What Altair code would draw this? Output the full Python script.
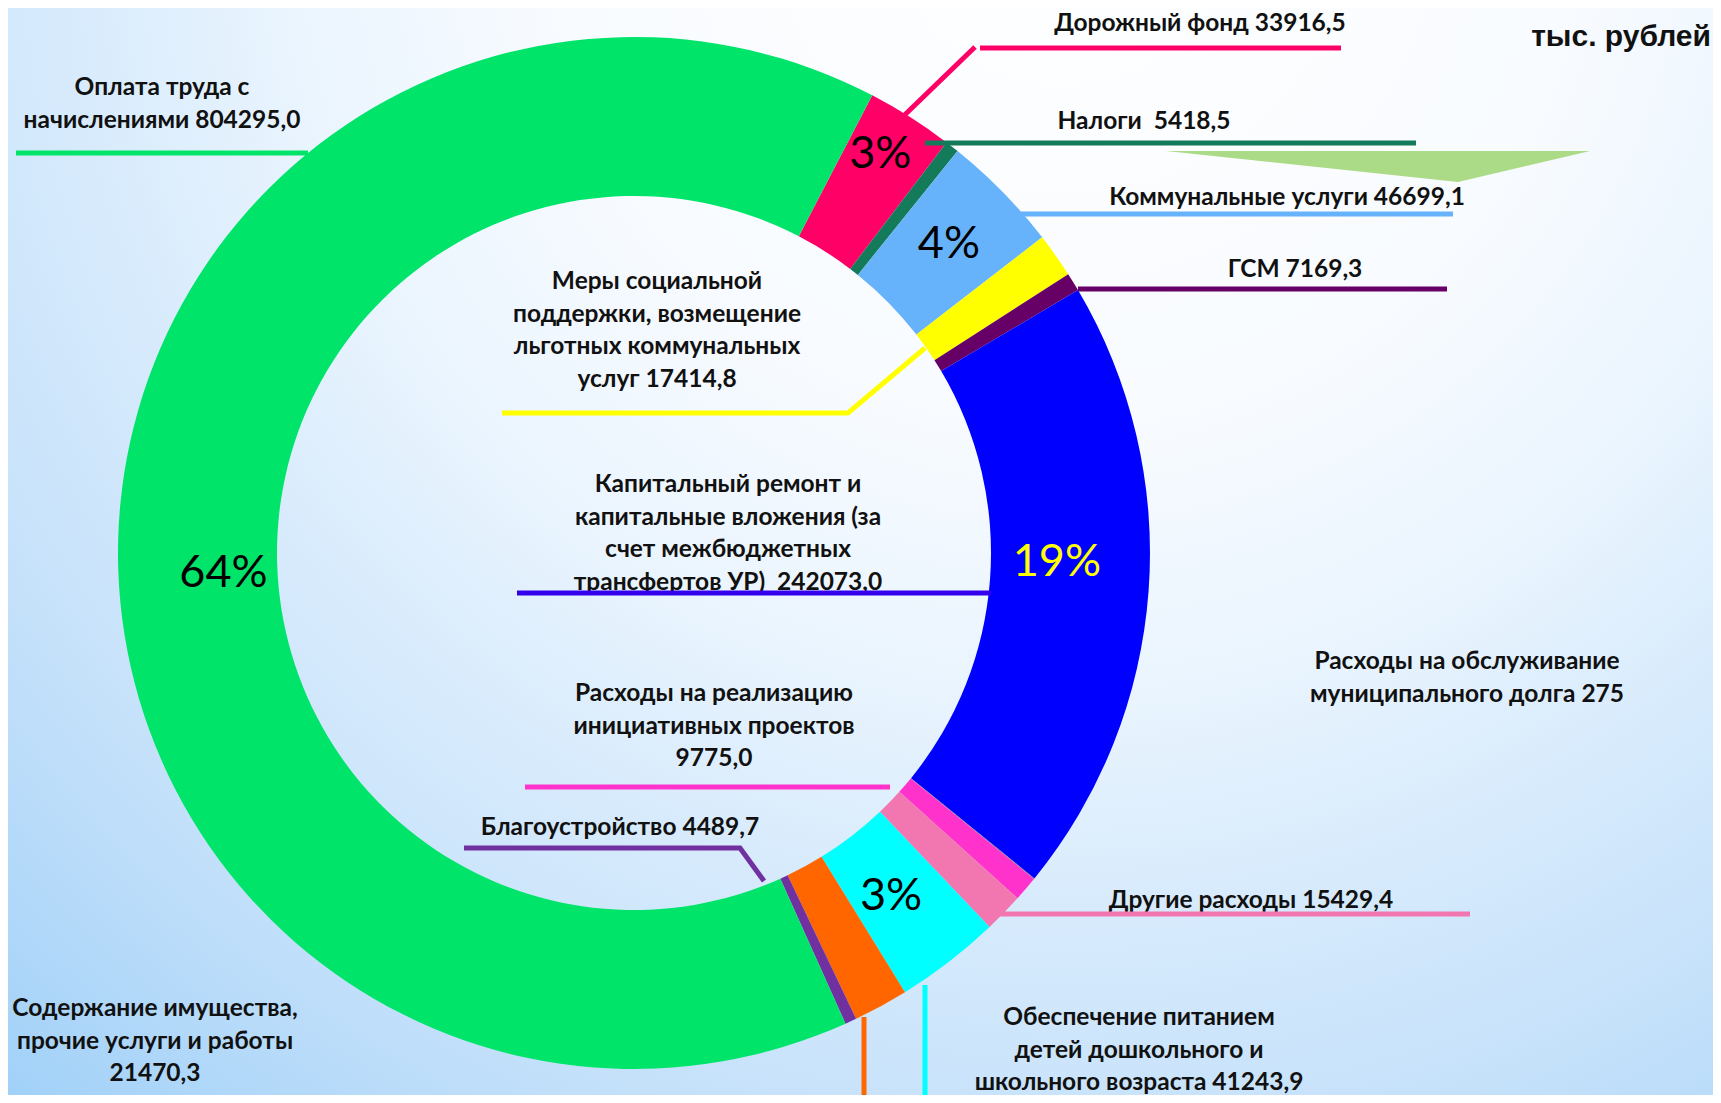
import math
import altair as alt
import pandas as pd

W, H = 1705, 1087
OFF = 8  # page margin: reference pixel = chart pixel + OFF
NB = "\u00a0"

# ---------------- data ----------------
categories = [
    "Дорожный фонд", "Налоги", "Коммунальные услуги",
    "Меры социальной поддержки", "ГСМ", "Капитальный ремонт",
    "Обслуживание муниципального долга", "Инициативные проекты",
    "Другие расходы", "Обеспечение питанием", "Содержание имущества",
    "Благоустройство", "Оплата труда",
]
values = [33916.5, 5418.5, 46699.1, 17414.8, 7169.3, 242073.0, 275.0,
          9775.0, 15429.4, 41243.9, 21470.3, 4489.7, 804295.0]
colors = ["#ff0066", "#137a5a", "#66b3fc", "#ffff00", "#660066", "#0000ff",
          "#7a7a7a", "#ff33cc", "#f277b0", "#00ffff", "#ff6600", "#7030a0",
          "#00e46a"]

label_texts = [
    "Дорожный фонд 33916,5",
    "Налоги" + NB + " 5418,5",
    "Коммунальные услуги 46699,1",
    "Меры социальной\nподдержки, возмещение\nльготных коммунальных\nуслуг 17414,8",
    "ГСМ 7169,3",
    "Капитальный ремонт и\nкапитальные вложения (за\nсчет межбюджетных\nтрансфертов УР)" + NB + " 242073,0",
    "Расходы на обслуживание\nмуниципального долга 275",
    "Расходы на реализацию\nинициативных проектов\n9775,0",
    "Другие расходы 15429,4",
    "Обеспечение питанием\nдетей дошкольного и\nшкольного возраста 41243,9",
    "Содержание имущества,\nпрочие услуги и работы\n21470,3",
    "Благоустройство 4489,7",
    "Оплата труда с\nначислениями 804295,0",
]
unit_text = "тыс. рублей"

# ---------------- layout (reference pixel coordinates) ----------------
CX, CY = 634, 553
R_OUT, R_IN = 516, 357
START_DEG = 27.5

# first-line positions of each label block
label_x = [1200, 1144, 1287, 657, 1295, 728, 1467, 714, 1251, 1139, 155, 620, 162]
label_y = [24, 122, 198, 282, 270, 485, 662, 694, 901, 1018, 1009, 828, 88]

# percent labels: radius and angular nudge (degrees) per slice
pct_radius = [469, 0, 441, 0, 0, 423, 0, 0, 0, 429, 0, 0, 411]
pct_nudge = [-0.7, 0, 0, 0, 0, -3.0, 0, 0, 0, 0.8, 0, 0, -4.5]
pct_color = ["#000000"] * 13
pct_color[5] = "#ffff00"

# leader lines: (category index, list of points)
leaders = [
    (0, [(887, 132), (975, 47)]),
    (0, [(980, 48), (1341, 48)]),
    (1, [(925, 143), (1416, 143)]),
    (2, [(1021, 214), (1453, 214)]),
    (4, [(1078, 289), (1447, 289)]),
    (3, [(502, 413), (848, 413), (925, 348)]),
    (5, [(517, 593), (991, 593)]),
    (7, [(525, 787), (890, 787)]),
    (11, [(464, 848), (740, 848), (764, 881)]),
    (8, [(993, 914), (1470, 914)]),
    (9, [(925, 985), (925, 1110)]),
    (10, [(864, 1017), (864, 1110)]),
    (12, [(16, 153), (308, 153)]),
]
leader_colors = {5: "#3300ee"}

# decorative green triangle (top right)
tri_x = [1166, 1458, 1590]
tri_top = [151, 151, 151]
tri_bot = [151, 182, 151]

# ---------------- build tables ----------------
df = pd.DataFrame({
    "cat": categories,
    "value": values,
    "idx": list(range(len(values))),
    "lr": pct_radius,
    "nd": [math.radians(v) for v in pct_nudge],
    "pc": pct_color,
})

lab = pd.DataFrame({
    "text": label_texts,
    "x": [v - OFF for v in label_x],
    "y": [v - OFF for v in label_y],
})

rows = []
for k, (ci, pts) in enumerate(leaders):
    for j, (px, py) in enumerate(pts):
        rows.append({"line": k, "o": j, "x": px - OFF, "y": py - OFF,
                     "c": leader_colors.get(ci, colors[ci])})
ldf = pd.DataFrame(rows)

tri = pd.DataFrame({"x": [v - OFF for v in tri_x],
                    "y": [v - OFF for v in tri_top],
                    "y2": [v - OFF for v in tri_bot]})

xs = alt.Scale(domain=[0, W], range=[0, W])
ys = alt.Scale(domain=[0, H], range=[0, H])

bg_grad = {
    "gradient": "radial",
    "x1": 0.62, "y1": 0.12, "r1": 0.0,
    "x2": 0.62, "y2": 0.12, "r2": 1.1,
    "stops": [
        {"offset": 0.0, "color": "#ffffff"},
        {"offset": 0.27, "color": "#f8fbff"},
        {"offset": 0.41, "color": "#ebf5fe"},
        {"offset": 0.545, "color": "#d6eafc"},
        {"offset": 0.68, "color": "#c3e0fa"},
        {"offset": 0.86, "color": "#9fd0f8"},
        {"offset": 1.0, "color": "#7dc0f6"},
    ],
}
bg = alt.Chart(pd.DataFrame({"a": [0]})).mark_rect(fill=bg_grad).encode(
    x=alt.value(0), x2=alt.value(W), y=alt.value(0), y2=alt.value(H)
)

deco = alt.Chart(tri).mark_area(color="#a6d981", opacity=0.95, interpolate="linear").encode(
    x=alt.X("x:Q", scale=xs, axis=None),
    y=alt.Y("y:Q", scale=ys, axis=None),
    y2="y2:Q",
)

a0 = math.radians(START_DEG)
theta = alt.Theta("value:Q", stack=True,
                  scale=alt.Scale(range=[a0, a0 + 2 * math.pi]))

arcs = alt.Chart(df).mark_arc(radius=R_OUT, radius2=R_IN, strokeWidth=0).encode(
    theta=theta,
    color=alt.Color("cat:N", scale=alt.Scale(domain=categories, range=colors), legend=None),
    order=alt.Order("idx:Q"),
    x=alt.value(CX - OFF), y=alt.value(CY - OFF),
)

pcts = alt.Chart(df).transform_joinaggregate(
    total="sum(value)"
).transform_window(
    cum="sum(value)", sort=[alt.SortField("idx")], frame=[None, 0]
).transform_calculate(
    share="datum.value / datum.total",
    mid=f"{a0} + 2 * PI * (datum.cum - datum.value / 2) / datum.total + datum.nd",
).transform_calculate(
    pct="format(round(100 * datum.share), 'd') + '%'",
    px=f"{CX - OFF} + datum.lr * sin(datum.mid)",
    py=f"{CY - OFF} - datum.lr * cos(datum.mid)",
).transform_filter(
    "datum.share >= 0.025"
).mark_text(font="Lato", fontSize=45, align="center", baseline="middle").encode(
    x=alt.X("px:Q", scale=xs, axis=None),
    y=alt.Y("py:Q", scale=ys, axis=None),
    text="pct:N",
    color=alt.Color("pc:N", scale=None),
)

labels = alt.Chart(lab).mark_text(font="Lato", fontWeight="bold", fontSize=24.5,
                                  lineHeight=32.5, align="center", baseline="middle",
                                  color="#111111", lineBreak="\n").encode(
    x=alt.X("x:Q", scale=xs, axis=None),
    y=alt.Y("y:Q", scale=ys, axis=None),
    text="text:N",
)

lines = alt.Chart(ldf).mark_line(strokeWidth=5, strokeCap="butt").encode(
    x=alt.X("x:Q", scale=xs, axis=None),
    y=alt.Y("y:Q", scale=ys, axis=None),
    detail="line:N",
    order="o:Q",
    color=alt.Color("c:N", scale=None),
)

unit = alt.Chart(pd.DataFrame({"t": [unit_text]})).mark_text(
    font="Liberation Sans", fontWeight="bold", fontSize=30, align="right",
    baseline="middle", color="#111111").encode(
    x=alt.value(W - 2), y=alt.value(37 - OFF), text="t:N")

chart = alt.layer(bg, deco, arcs, pcts, labels, lines, unit).properties(
    width=W, height=H, padding=0, autosize="none"
).configure_view(stroke=None)

chart.save("out.html", embed_options={"renderer": "svg", "actions": False})
